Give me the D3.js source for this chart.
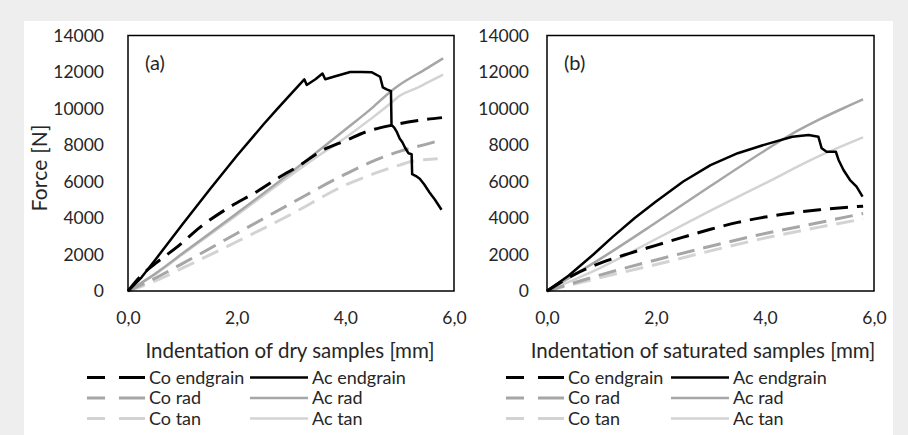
<!DOCTYPE html>
<html>
<head>
<meta charset="utf-8">
<script src="https://cdn.jsdelivr.net/npm/d3@7"></script>
<style>
  body { margin: 0; background: #eeeeee; }
  svg { display: block; font-family: Lato, "Open Sans", sans-serif; }
</style>
</head>
<body>
<svg id="chart" width="908" height="435"></svg>
<script>
// axis ticks and labels
var xTicks = [0, 2, 4, 6];
var yTicks = [0, 2000, 4000, 6000, 8000, 10000, 12000, 14000];
var seriesNames = ["Co endgrain", "Ac endgrain", "Co rad", "Ac rad", "Co tan", "Ac tan"];
var panelLabels = ["(a)", "(b)"];
var xTitles = ["Indentation of dry samples [mm]", "Indentation of saturated samples [mm]"];
var yTitle = "Force [N]";

// (a) dry samples: [indentation mm, force N]
var dryCoEndgrain = [[0,0],[0.22,780],[0.5,1500],[0.9,2400],[1.33,3500],[1.88,4620],[2.37,5440],[2.8,6260],[3.17,6900],[3.53,7630],[4.03,8270],[4.39,8730],[4.88,9100],[5.31,9330],[5.78,9500]];
var dryAcEndgrain = [[0,0],[0.25,750],[0.5,1700],[1.0,3650],[1.5,5550],[2.0,7400],[2.5,9150],[2.74,9950],[3.0,10800],[3.245,11600],[3.29,11290],[3.45,11600],[3.58,11920],[3.63,11600],[3.8,11750],[4.09,12000],[4.3,12000],[4.49,11980],[4.64,11740],[4.69,11160],[4.76,11050],[4.84,10950],[4.85,9100],[4.9,8950],[4.95,8700],[5.0,8350],[5.05,8150],[5.1,7850],[5.16,7550],[5.22,7500],[5.23,6400],[5.3,6300],[5.37,6150],[5.45,5850],[5.55,5400],[5.65,5000],[5.77,4450]];
var dryCoRad = [[0,0],[0.5,700],[1,1500],[2,3150],[3,4800],[4,6400],[4.5,7100],[5,7650],[5.5,8050],[5.8,8300]];
var dryAcRad = [[0,0],[0.5,950],[1,2050],[2,4250],[3,6500],[4,8850],[4.5,10050],[4.84,10950],[5,11300],[5.5,12200],[5.8,12750]];
var dryCoTan = [[0,0],[0.5,550],[1,1250],[2,2700],[3,4200],[4,5800],[4.5,6400],[5,6900],[5.3,7150],[5.5,7200],[5.7,7250]];
var dryAcTan = [[0,0],[0.5,900],[1,2000],[2,4150],[3,6350],[3.5,7400],[4,8400],[4.5,9500],[4.84,10300],[5,10700],[5.3,11100],[5.5,11400],[5.8,11850]];

// (b) saturated samples
var satCoEndgrain = [[0,0],[0.5,900],[1,1550],[1.5,2050],[2,2500],[2.5,2950],[3,3380],[3.5,3760],[4,4050],[4.5,4280],[5,4450],[5.8,4650]];
var satAcEndgrain = [[0,0],[0.4,850],[0.85,2000],[1.2,2950],[1.61,4000],[2.0,4900],[2.5,6000],[3.0,6900],[3.5,7550],[4.03,8050],[4.5,8450],[4.8,8550],[4.98,8450],[5.04,7820],[5.13,7630],[5.3,7630],[5.35,7180],[5.44,6630],[5.56,6080],[5.68,5715],[5.79,5170]];
var satCoRad = [[0,0],[0.5,450],[1,900],[2,1700],[3,2450],[4,3150],[5,3750],[5.8,4250]];
var satAcRad = [[0,0],[1,1800],[2,3750],[3,5750],[4,7700],[4.46,8550],[5,9400],[5.5,10100],[5.8,10500]];
var satCoTan = [[0,0],[0.5,380],[1,750],[2,1450],[3,2200],[4,2900],[5,3500],[5.8,3950]];
var satAcTan = [[0,0],[1,1300],[2,2850],[3,4400],[4,5900],[5,7400],[5.8,8420]];

var styles = {
  "Co endgrain": {color: "#000000", dash: "18,9", width: 3},
  "Ac endgrain": {color: "#000000", dash: null, width: 2.5},
  "Co rad": {color: "#a6a6a6", dash: "18,9", width: 3},
  "Ac rad": {color: "#a6a6a6", dash: null, width: 2.5},
  "Co tan": {color: "#d3d3d3", dash: "18,9", width: 3},
  "Ac tan": {color: "#d3d3d3", dash: null, width: 2.5}
};
// draw greys first so the black curves sit on top
var drawOrder = [5, 4, 3, 2, 0, 1];

var svg = d3.select("#chart");
svg.append("rect")
    .attr("x", 24).attr("y", 21)
    .attr("width", 869).attr("height", 414)
    .attr("fill", "#ffffff");

var plotTop = 35.5, plotBottom = 291;
var y = d3.scaleLinear().domain([0, 14000]).range([plotBottom, plotTop]);

var locale = d3.formatLocale({decimal: ",", thousands: ".", grouping: [3], currency: ["", ""]});
var fmtX = locale.format(".1f");

var panels = [
  {left: 128, right: 454, tickPad: 24, titleX: 290, legendX: [87, 250],
   data: [dryCoEndgrain, dryAcEndgrain, dryCoRad, dryAcRad, dryCoTan, dryAcTan]},
  {left: 547, right: 874, tickPad: 18, titleX: 703, legendX: [506, 671],
   data: [satCoEndgrain, satAcEndgrain, satCoRad, satAcRad, satCoTan, satAcTan]}
];

panels.forEach(function(p, i) {
  var x = d3.scaleLinear().domain([0, 6]).range([p.left, p.right]);
  var g = svg.append("g");

  g.append("g")
      .attr("transform", "translate(" + p.left + ",0)")
      .call(d3.axisLeft(y).tickValues(yTicks).tickSize(0).tickPadding(p.tickPad).tickFormat(d3.format("d")))
      .call(function(a) {
        a.select(".domain").remove();
        a.attr("font-family", null).attr("font-size", 17.5);
        a.selectAll("text").attr("fill", "#262626");
      });

  g.append("g")
      .attr("transform", "translate(0," + plotBottom + ")")
      .call(d3.axisBottom(x).tickValues(xTicks).tickSize(0).tickPadding(21).tickFormat(fmtX))
      .call(function(a) {
        a.select(".domain").remove();
        a.attr("font-family", null).attr("font-size", 17.5);
        a.selectAll("text").attr("fill", "#262626");
      });

  var line = d3.line()
      .x(function(d) { return x(d[0]); })
      .y(function(d) { return y(d[1]); });

  drawOrder.forEach(function(k) {
    var s = styles[seriesNames[k]];
    line.curve(k === 1 ? d3.curveLinear : d3.curveMonotoneX);
    g.append("path")
        .datum(p.data[k])
        .attr("fill", "none")
        .attr("stroke", s.color)
        .attr("stroke-width", s.width)
        .attr("stroke-dasharray", s.dash)
        .attr("stroke-linejoin", "round")
        .attr("d", line);
  });

  // plot area border
  g.append("rect")
      .attr("x", p.left).attr("y", plotTop)
      .attr("width", p.right - p.left).attr("height", plotBottom - plotTop)
      .attr("fill", "none")
      .attr("stroke", "#000")
      .attr("stroke-width", 1.5);

  g.append("text")
      .attr("x", p.left + 17).attr("y", 70)
      .attr("font-size", 20)
      .attr("fill", "#262626")
      .text(panelLabels[i]);

  g.append("text")
      .attr("x", p.titleX).attr("y", 358)
      .attr("text-anchor", "middle")
      .attr("font-size", 20.5)
      .attr("fill", "#262626")
      .text(xTitles[i]);

  // legend, 3 rows x 2 columns
  var legend = g.append("g");
  seriesNames.forEach(function(name, k) {
    var s = styles[name];
    var lx = p.legendX[k % 2];
    var ly = 377.5 + Math.floor(k / 2) * 20.5;
    legend.append("line")
        .attr("x1", lx).attr("x2", lx + 58)
        .attr("y1", ly).attr("y2", ly)
        .attr("stroke", s.color)
        .attr("stroke-width", s.width)
        .attr("stroke-dasharray", s.dash ? "18,14,26,14" : null);
    legend.append("text")
        .attr("x", lx + 62).attr("y", ly + 6)
        .attr("font-size", 18)
        .attr("fill", "#262626")
        .text(name);
  });
});

svg.append("text")
    .attr("transform", "translate(47,168) rotate(-90)")
    .attr("text-anchor", "middle")
    .attr("font-size", 21)
    .attr("textLength", 87)
    .attr("lengthAdjust", "spacing")
    .attr("fill", "#262626")
    .text(yTitle);
</script>
</body>
</html>
